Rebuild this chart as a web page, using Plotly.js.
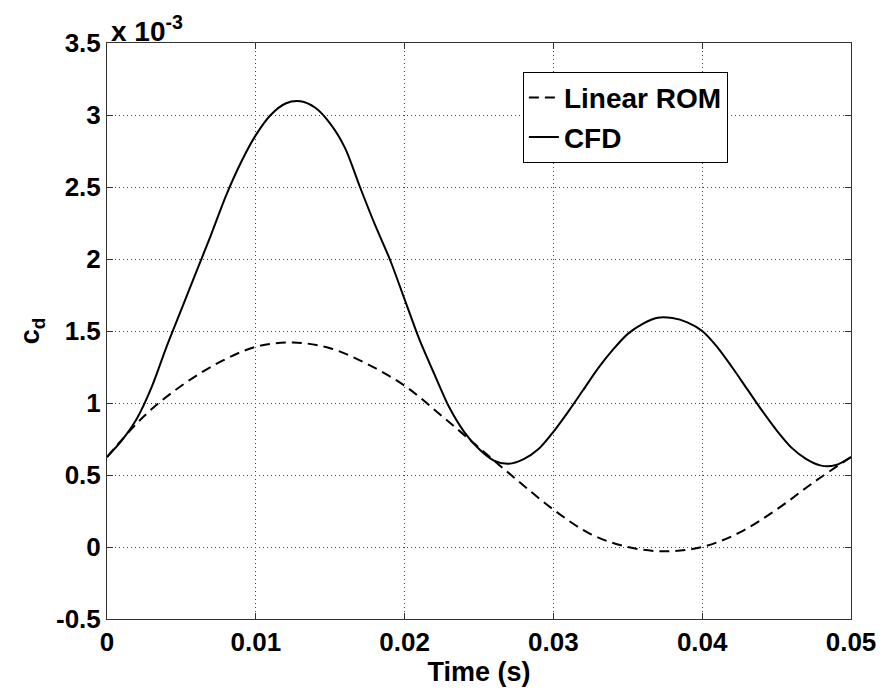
<!DOCTYPE html>
<html>
<head>
<meta charset="utf-8">
<script src="https://cdn.plot.ly/plotly-3.0.1.min.js"></script>
<style>html,body{margin:0;padding:0;background:#fff;}#chart{width:883px;height:690px;}</style>
</head>
<body>
<div id="chart"></div>
<script>
// Values of c_d are in units of 1e-3 (axis carries "x 10^-3").
const cfdTime = [0, 0.001, 0.002, 0.003, 0.004, 0.005, 0.006, 0.007, 0.008, 0.009, 0.010, 0.011, 0.012, 0.013, 0.014, 0.015, 0.016, 0.017, 0.018, 0.019, 0.020, 0.021, 0.022, 0.023, 0.024, 0.025, 0.026, 0.027, 0.028, 0.029, 0.030, 0.031, 0.032, 0.033, 0.034, 0.035, 0.036, 0.037, 0.038, 0.039, 0.040, 0.041, 0.042, 0.043, 0.044, 0.045, 0.046, 0.047, 0.048, 0.049, 0.050];
const cfdValues = [0.625, 0.74, 0.89, 1.11, 1.39, 1.65, 1.91, 2.17, 2.44, 2.67, 2.86, 3.00, 3.08, 3.095, 3.05, 2.94, 2.77, 2.50, 2.24, 2.00, 1.72, 1.44, 1.20, 0.97, 0.80, 0.68, 0.60, 0.578, 0.61, 0.68, 0.80, 0.94, 1.09, 1.24, 1.37, 1.48, 1.55, 1.592, 1.59, 1.56, 1.50, 1.39, 1.25, 1.10, 0.95, 0.81, 0.69, 0.61, 0.565, 0.57, 0.625];

const romTime = [0, 0.0025, 0.005, 0.0075, 0.010, 0.0125, 0.015, 0.0175, 0.020, 0.0225, 0.025, 0.0275, 0.030, 0.0325, 0.035, 0.0375, 0.040, 0.0425, 0.045, 0.0475, 0.050];
const romValues = [0.625, 0.91, 1.12, 1.28, 1.39, 1.42, 1.38, 1.27, 1.12, 0.91, 0.69, 0.47, 0.26, 0.09, 0.00, -0.03, 0.00, 0.10, 0.26, 0.45, 0.625];

const xTickVals = [0, 0.01, 0.02, 0.03, 0.04, 0.05];
const xTickText = ["0", "0.01", "0.02", "0.03", "0.04", "0.05"];
const yTickVals = [-0.5, 0, 0.5, 1, 1.5, 2, 2.5, 3, 3.5];
const yTickText = ["-0.5", "0", "0.5", "1", "1.5", "2", "2.5", "3", "3.5"];

const FONT = "Liberation Sans, Arial, sans-serif";

const traces = [
  {
    x: romTime, y: romValues, name: "Linear ROM", type: "scatter", mode: "lines",
    line: {color: "#000", width: 2, dash: "10px,6px", shape: "spline", smoothing: 1}
  },
  {
    x: cfdTime, y: cfdValues, name: "CFD", type: "scatter", mode: "lines",
    line: {color: "#000", width: 2, shape: "spline", smoothing: 0.8}
  }
];

const axisCommon = {
  showline: true, linecolor: "#333", linewidth: 1, mirror: "ticks",
  ticks: "inside", ticklen: 6, tickcolor: "#333",
  showgrid: true, gridcolor: "#444", gridwidth: 1, griddash: "1px,3px",
  zeroline: false,
  tickfont: {family: FONT, size: 26, color: "#000", weight: "bold"}
};

const layout = {
  width: 883, height: 690,
  margin: {l: 107, r: 32, t: 43, b: 71},
  paper_bgcolor: "#fff", plot_bgcolor: "#fff",
  font: {family: FONT, color: "#000"},
  showlegend: true,
  legend: {
    x: 0.559, y: 0.95, xanchor: "left", yanchor: "top",
    bgcolor: "#fff", bordercolor: "#000", borderwidth: 1,
    font: {family: FONT, size: 28, color: "#000", weight: "bold"},
    tracegroupgap: 0
  },
  xaxis: Object.assign({}, axisCommon, {
    range: [0, 0.05], tickvals: xTickVals, ticktext: xTickText,
    title: {text: "<b>Time (s)</b>", font: {family: FONT, size: 27, color: "#000"}, standoff: 0}
  }),
  yaxis: Object.assign({}, axisCommon, {
    range: [-0.5, 3.5], tickvals: yTickVals, ticktext: yTickText,
    title: {text: "<b>c<sub>d</sub></b>", font: {family: FONT, size: 27, color: "#000"}, standoff: 8}
  }),
  annotations: [{
    xref: "paper", yref: "paper", x: 0, y: 1, xanchor: "left", yanchor: "bottom",
    text: "<b>x 10<sup>-3</sup></b>", showarrow: false,
    font: {family: FONT, size: 28, color: "#000"}, xshift: 2, yshift: -6
  }]
};

Plotly.newPlot("chart", traces, layout, {displayModeBar: false, staticPlot: true});
</script>
</body>
</html>
